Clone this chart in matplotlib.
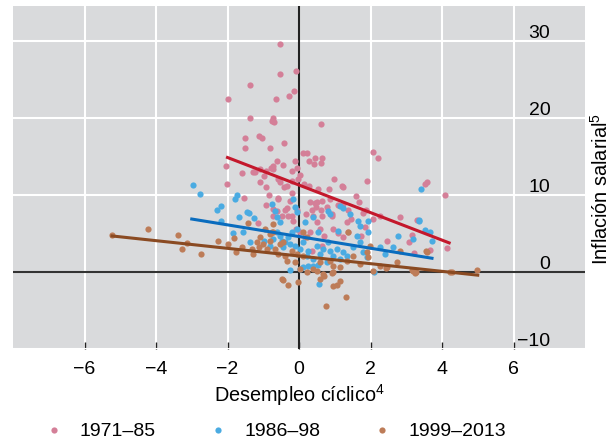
import numpy as np
import matplotlib
matplotlib.use("Agg")
import matplotlib.pyplot as plt

plt.rcParams["font.family"] = ["Liberation Sans", "DejaVu Sans"]
plt.rcParams["mathtext.default"] = "regular"
plt.rcParams["axes.unicode_minus"] = True

# 1971-85 points (cyclical unemployment, wage inflation)
x_7185 = [-0.53, -0.08, -0.53, -1.37, -0.14, -0.28, -2.0, -0.64, -1.37, -0.73, -0.76, -0.7,
          0.62, -1.5, -1.12, -1.03, -0.42, -1.5, -0.81, 0.11, 0.22, 0.45, 0.64, 0.42, 0.28,
          -0.11, -0.62, -0.45, -2.04, -1.09, -0.92, -0.78, -0.73, -0.73, -1.29, -1.59, -0.98,
          -0.06, -0.2, 0.03, 0.98, 2.07, 2.21, 1.9, 3.58, 4.08, -2.02, -1.09, -0.92, -0.59,
          -0.53, -0.34, -0.42, -0.2, -0.03, 0.14, 0.28, 0.53, 0.84, 1.2, 1.6, -1.54, -0.84,
          -0.59, -0.2, 0.62, -1.23, -0.92, -0.59, -0.25, -0.34, -0.06, -0.2, 0.31, 0.45, 0.5,
          0.64, 0.87, 0.2, 0.36, 0.48, 0.62, 0.78, 0.64, 0.92, -0.73, -0.62, -0.39, -0.31,
          1.23, 1.68, 1.09, 1.23, 1.37, 1.87, 1.79, 2.07, 2.27, 2.83, 3.3, 1.34, 1.45, 1.85,
          1.09, 1.73, 3.16, 3.08, 2.46, 3.66, 4.14, 3.22, 0.92, -1.15, -0.73, -0.48, -0.17,
          -0.08, 0.03, 0.17, 0.31, 0.39, 0.5, 0.59, 0.7, 0.95, 1.23, 1.37, 0.36, 0.64, 3.52]
y_7185 = [29.7, 26.1, 25.7, 24.3, 23.5, 22.9, 22.5, 22.5, 20.0, 20.1, 19.7, 19.5,
          19.2, 17.5, 17.7, 17.4, 16.8, 16.1, 16.2, 15.5, 15.5, 14.9, 14.8, 14.0, 14.5,
          14.4, 14.5, 13.9, 13.8, 13.4, 13.2, 13.6, 13.8, 13.4, 13.0, 12.9, 12.5,
          13.5, 13.1, 12.6, 12.1, 15.6, 14.8, 11.8, 11.7, 10.0, 11.4, 11.7, 11.0, 12.1,
          11.7, 11.2, 11.0, 11.8, 12.1, 11.4, 11.2, 10.8, 10.8, 11.2, 9.9, 9.6, 10.0,
          9.6, 10.3, 14.2, 13.0, 8.7, 9.5, 9.2, 8.3, 8.1, 7.3, 9.1, 9.0, 9.1,
          9.2, 9.5, 7.5, 8.1, 8.4, 8.1, 8.4, 7.3, 7.5, 8.2, 7.9, 8.1, 7.3,
          11.0, 9.1, 8.7, 8.8, 8.1, 8.1, 7.7, 6.9, 7.3, 7.1, 6.8, 6.5, 6.9, 5.8,
          5.1, 4.7, 4.8, 3.9, 4.0, 2.9, 3.1, 2.5, 7.3, 6.4, 7.3, 7.3, 6.6,
          5.6, 5.2, 4.5, 5.2, 7.3, 6.5, 5.6, 4.7, 5.6, 4.5, 5.2, 2.7, 3.4, 11.4]

# 1986-98 points
x_8698 = [-2.97, -2.77, -1.73, -1.79, -2.29, -2.18, -2.18, -1.68, -1.45, -1.4, -1.85, -1.57,
          -1.37, -1.26, -0.98, -0.81, -0.73, -0.62, -0.53, -0.48, -0.45, -0.39, -0.31, -0.25,
          -0.2, -0.11, -0.06, 0.03, 0.11, 0.22, 0.25, 0.39, 0.5, 0.59, 0.67, 0.78, 0.87,
          0.95, 1.06, 1.15, 1.23, 1.34, 1.51, 1.62, 1.71, 1.79, 1.9, 1.93, 2.27, 2.41,
          2.63, 2.77, 3.19, 3.36, 3.52, 3.66, 3.72, 3.41, 3.35, -0.25, 0.03, 0.11, 0.25,
          0.39, 0.53, 0.56, 2.1, -0.76, -0.67, -0.62, -0.53, -0.17, -0.11, -0.06, 0.17,
          0.39, 0.81, 0.87, 1.15, 1.23, 1.43, 1.65, 1.71, 1.93, 1.09, 0.53, 0.81]
y_8698 = [11.3, 10.1, 10.0, 9.5, 8.1, 8.6, 6.6, 7.1, 7.8, 7.7, 5.1, 5.2,
          3.9, 7.0, 4.0, 3.4, 4.3, 5.2, 4.7, 4.0, 3.2, 3.9, 4.5, 3.6,
          5.2, 3.4, 5.6, 3.0, 3.9, 2.1, 2.7, 1.7, 3.4, 2.3, 3.0, 1.3, 2.7,
          2.1, 3.0, 1.7, 2.6, 2.1, 3.2, 4.7, 3.9, 2.6, 1.9, 5.2, 3.2, 2.3,
          3.2, 4.7, 4.3, 6.6, 5.5, 5.2, 4.0, 10.8, 6.8, 0.3, 0.4, 0.6, 0.8,
          0.8, 0.9, -1.6, 0.0, 8.8, 7.9, 7.1, 6.5, 9.5, 8.4, 7.8, 6.5,
          7.1, 7.9, 7.5, 8.6, 8.3, 7.5, 6.6, 6.0, 6.6, 5.3, 5.2, 3.9]

# 1999-2013 points
x_9913 = [-5.23, -4.22, -3.38, -3.27, -3.13, -2.74, -2.27, -1.99, -1.82, -1.76, -1.59, -1.43,
          -1.31, -1.29, -1.17, -1.09, -1.01, -0.9, -0.81, -0.73, -0.67, -0.59, -0.53, -0.39,
          -0.34, -0.2, -0.11, 0.03, 0.11, 0.22, 0.39, 0.5, 0.59, 0.67, 0.87, 0.95, 1.15,
          1.34, 1.37, 1.51, 1.71, 1.9, 1.93, 1.99, 2.27, 2.46, 2.74, 2.83, 3.19, 3.25,
          3.55, 4.22, 4.98, -0.48, -0.31, -0.03, 0.59, 0.7, 0.95, 1.06, 1.15, 1.31, 0.76,
          -0.95, -0.76, 0.11, -1.12, -0.81, -0.45, -0.06, 0.22, -0.73, 0.92, 3.58, 3.16,
          3.27, 4.28, 2.07, 2.43, 0.95, -0.45]
y_9913 = [4.8, 5.6, 4.8, 3.0, 3.8, 2.3, 4.0, 3.6, 4.4, 2.6, 3.2, 6.4,
          3.0, 2.3, 3.9, 4.5, 3.6, 3.0, 4.0, 5.2, 3.0, 2.3, 3.6, 2.1,
          1.4, 2.7, 1.3, 0.4, 2.1, 0.0, 0.4, 0.1, 1.3, -0.3, 1.4, 0.8, 0.6,
          1.4, 5.2, 2.1, 1.0, 2.6, 1.9, 3.4, 0.8, 0.6, 1.3, 2.7, 0.1, -0.1,
          2.7, 0.0, 0.3, -0.9, -1.7, -1.3, -0.9, -0.5, -1.8, -1.7, -1.2, -3.2, -4.4,
          5.6, 5.2, 5.2, 3.2, 4.9, 3.9, 2.3, 4.5, 6.2, -0.1, 2.6, 0.3,
          0.0, 0.0, 0.1, 0.5, 0.0, -1.0]

# fitted lines (end points)
fit_x_7185 = [-2.0, 4.2]
fit_y_7185 = [14.9, 3.8]
fit_x_8698 = [-3.0, 3.72]
fit_y_8698 = [6.9, 1.8]
fit_x_9913 = [-5.23, 5.0]
fit_y_9913 = [4.7, -0.4]

labels = ["1971–85", "1986–98", "1999–2013"]
x_ticks = [-6, -4, -2, 0, 2, 4, 6]
y_ticks = [-10, 0, 10, 20, 30]

fig = plt.figure(figsize=(6.14, 4.39), dpi=100)
ax = fig.add_axes([13 / 614, 1 - 350 / 439, 572 / 614, 343 / 439])
ax.set_facecolor("#d9dadc")
for s in ax.spines.values():
    s.set_visible(False)

ax.set_xlim(-8, 8)
ax.set_ylim(-10, 34.6)
ax.set_xticks(x_ticks)
ax.set_yticks(y_ticks)
ax.grid(True, color="white", lw=1.5)
ax.set_axisbelow(True)
ax.axhline(0, color="#333333", lw=1.5, zorder=1.5)
ax.axvline(0, color="#222222", lw=1.5, zorder=1.5)

ax.scatter(x_7185, y_7185, s=20, color="#d47f98", lw=0, zorder=2, label=labels[0])
ax.scatter(x_8698, y_8698, s=20, color="#4aabe2", lw=0, zorder=2, label=labels[1])
ax.scatter(x_9913, y_9913, s=20, color="#bd7c58", lw=0, zorder=2, label=labels[2])
ax.plot(fit_x_7185, fit_y_7185, color="#c4182c", lw=2.2, zorder=3)
ax.plot(fit_x_8698, fit_y_8698, color="#0a6cbe", lw=2.2, zorder=3)
ax.plot(fit_x_9913, fit_y_9913, color="#8a4a22", lw=2.2, zorder=3)

ax.tick_params(axis="x", direction="in", length=5, width=1, color="#222222",
               labelsize=14, pad=8)
ax.yaxis.tick_right()
ax.tick_params(axis="y", length=0, labelsize=14, pad=-25)
for lab in ax.get_yticklabels():
    lab.set_horizontalalignment("right")
    lab.set_verticalalignment("bottom")

ax.set_xlabel("Desempleo cíclico$^{4}$", fontsize=14.3, labelpad=3)
ax.yaxis.set_label_position("right")
ax.set_ylabel("Inflación salarial$^{5}$", fontsize=14.3)
ax.yaxis.set_label_coords(1.009, 0.47)

fig.legend(loc="lower left", bbox_to_anchor=(0.043, -0.042), ncol=3, frameon=False,
           fontsize=14, handlelength=1.0, handletextpad=0.84, columnspacing=2.7)

fig.savefig("out.png", dpi=100)
